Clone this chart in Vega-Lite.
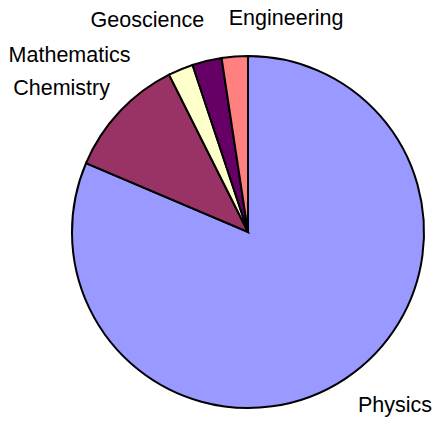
{
  "$schema": "https://vega.github.io/schema/vega-lite/v6.json",
  "width": 352,
  "height": 352,
  "autosize": {"type": "none"},
  "padding": {"left": 72, "top": 56, "right": 12, "bottom": 13},
  "background": "white",
  "config": {"view": {"stroke": null}},
  "data": {
    "values": [
      {"idx": 1, "category": "Physics", "share": 81.4},
      {"idx": 2, "category": "Chemistry", "share": 11.2},
      {"idx": 3, "category": "Mathematics", "share": 2.3},
      {"idx": 4, "category": "Geoscience", "share": 2.7},
      {"idx": 5, "category": "Engineering", "share": 2.4}
    ]
  },
  "encoding": {
    "theta": {"field": "share", "type": "quantitative", "stack": true},
    "order": {"field": "idx", "type": "quantitative"},
    "color": {
      "field": "category",
      "type": "nominal",
      "scale": {
        "domain": ["Physics", "Chemistry", "Mathematics", "Geoscience", "Engineering"],
        "range": ["#9999FF", "#993366", "#FFFFCC", "#660066", "#FF8080"]
      },
      "legend": null
    }
  },
  "layer": [
    {"mark": {"type": "arc", "stroke": "black", "strokeWidth": 2}},
    {
      "mark": {
        "type": "text",
        "radius": 212,
        "font": "Liberation Sans",
        "fontSize": 21.5,
        "baseline": "middle",
        "align": {"expr": "datum.category === 'Physics' || datum.category === 'Engineering' ? 'left' : 'right'"},
        "dx": {"expr": "datum.category === 'Physics' ? -7 : datum.category === 'Chemistry' ? 16.5 : datum.category === 'Mathematics' ? -36.4 : datum.category === 'Geoscience' ? 5.6 : -3.3"},
        "dy": {"expr": "datum.category === 'Physics' ? -2.9 : datum.category === 'Chemistry' ? 2.3 : datum.category === 'Mathematics' ? 19.9 : datum.category === 'Geoscience' ? -5 : -2.1"}
      },
      "encoding": {
        "text": {"field": "category", "type": "nominal"},
        "color": {"value": "black"}
      }
    }
  ]
}
